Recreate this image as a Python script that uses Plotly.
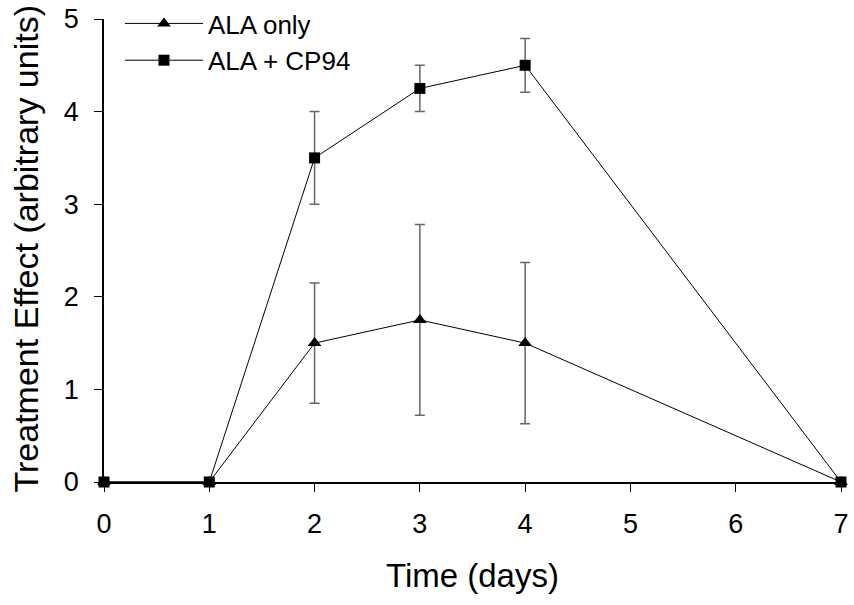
import plotly.graph_objects as go

days = [0, 1, 2, 3, 4, 7]
ala_only = [0, 0, 1.5, 1.75, 1.5, 0]
ala_only_err = [0, 0, 0.65, 1.03, 0.87, 0]
ala_cp94 = [0, 0, 3.5, 4.25, 4.5, 0]
ala_cp94_err = [0, 0, 0.5, 0.25, 0.29, 0]
x_ticks = [0, 1, 2, 3, 4, 5, 6, 7]
y_ticks = [0, 1, 2, 3, 4, 5]
x_title = "Time (days)"
y_title = "Treatment Effect (arbitrary units)"

err_style = dict(type="data", visible=True, color="#666666", thickness=1.5, width=5)

fig = go.Figure()
fig.add_trace(go.Scatter(
    x=days, y=ala_only, name="ALA only", mode="lines+markers",
    line=dict(color="black", width=1),
    marker=dict(symbol="triangle-up", size=12, color="black"),
    error_y=dict(array=ala_only_err, **err_style),
    cliponaxis=False,
))
fig.add_trace(go.Scatter(
    x=days, y=ala_cp94, name="ALA + CP94", mode="lines+markers",
    line=dict(color="black", width=1),
    marker=dict(symbol="square", size=11, color="black"),
    error_y=dict(array=ala_cp94_err, **err_style),
    cliponaxis=False,
))

font_family = "Liberation Sans, Arial, sans-serif"
fig.update_layout(
    width=854, height=605,
    margin=dict(l=104, r=13, t=19, b=123, autoexpand=False),
    paper_bgcolor="white", plot_bgcolor="white",
    font=dict(family=font_family, color="black"),
    showlegend=True,
    legend=dict(xref="container", yref="container", x=0.1405, y=1.008,
                xanchor="left", yanchor="top",
                font=dict(size=26), bgcolor="rgba(0,0,0,0)",
                itemwidth=78, tracegroupgap=0),
    xaxis=dict(range=[0, 7], tickvals=x_ticks, showline=True, linecolor="black",
               linewidth=1.5, ticks="outside", ticklen=8, tickcolor="black",
               tickwidth=1.2, ticklabelstandoff=9, automargin=False,
               ticklabeloverflow="allow",
               tickfont=dict(size=27), showgrid=False, zeroline=False),
    yaxis=dict(range=[0, 5], tickvals=y_ticks, showline=True, linecolor="black",
               linewidth=1.5, ticks="outside", ticklen=8, tickcolor="black",
               tickwidth=1.2, ticklabelstandoff=10, automargin=False,
               ticklabeloverflow="allow",
               tickfont=dict(size=27), showgrid=False, zeroline=False),
    annotations=[
        dict(text=x_title, xref="paper", yref="paper", x=0.5, y=0,
             xanchor="center", yanchor="middle", yshift=-93, showarrow=False,
             font=dict(size=33)),
        dict(text=y_title, xref="paper", yref="paper", x=0, y=0.5,
             xanchor="center", yanchor="middle", xshift=-79, yshift=2,
             textangle=-90, showarrow=False, font=dict(size=34)),
    ],
)

fig.write_html("out.html", config={"displayModeBar": False},
               post_script="document.body.style.margin='0';")
